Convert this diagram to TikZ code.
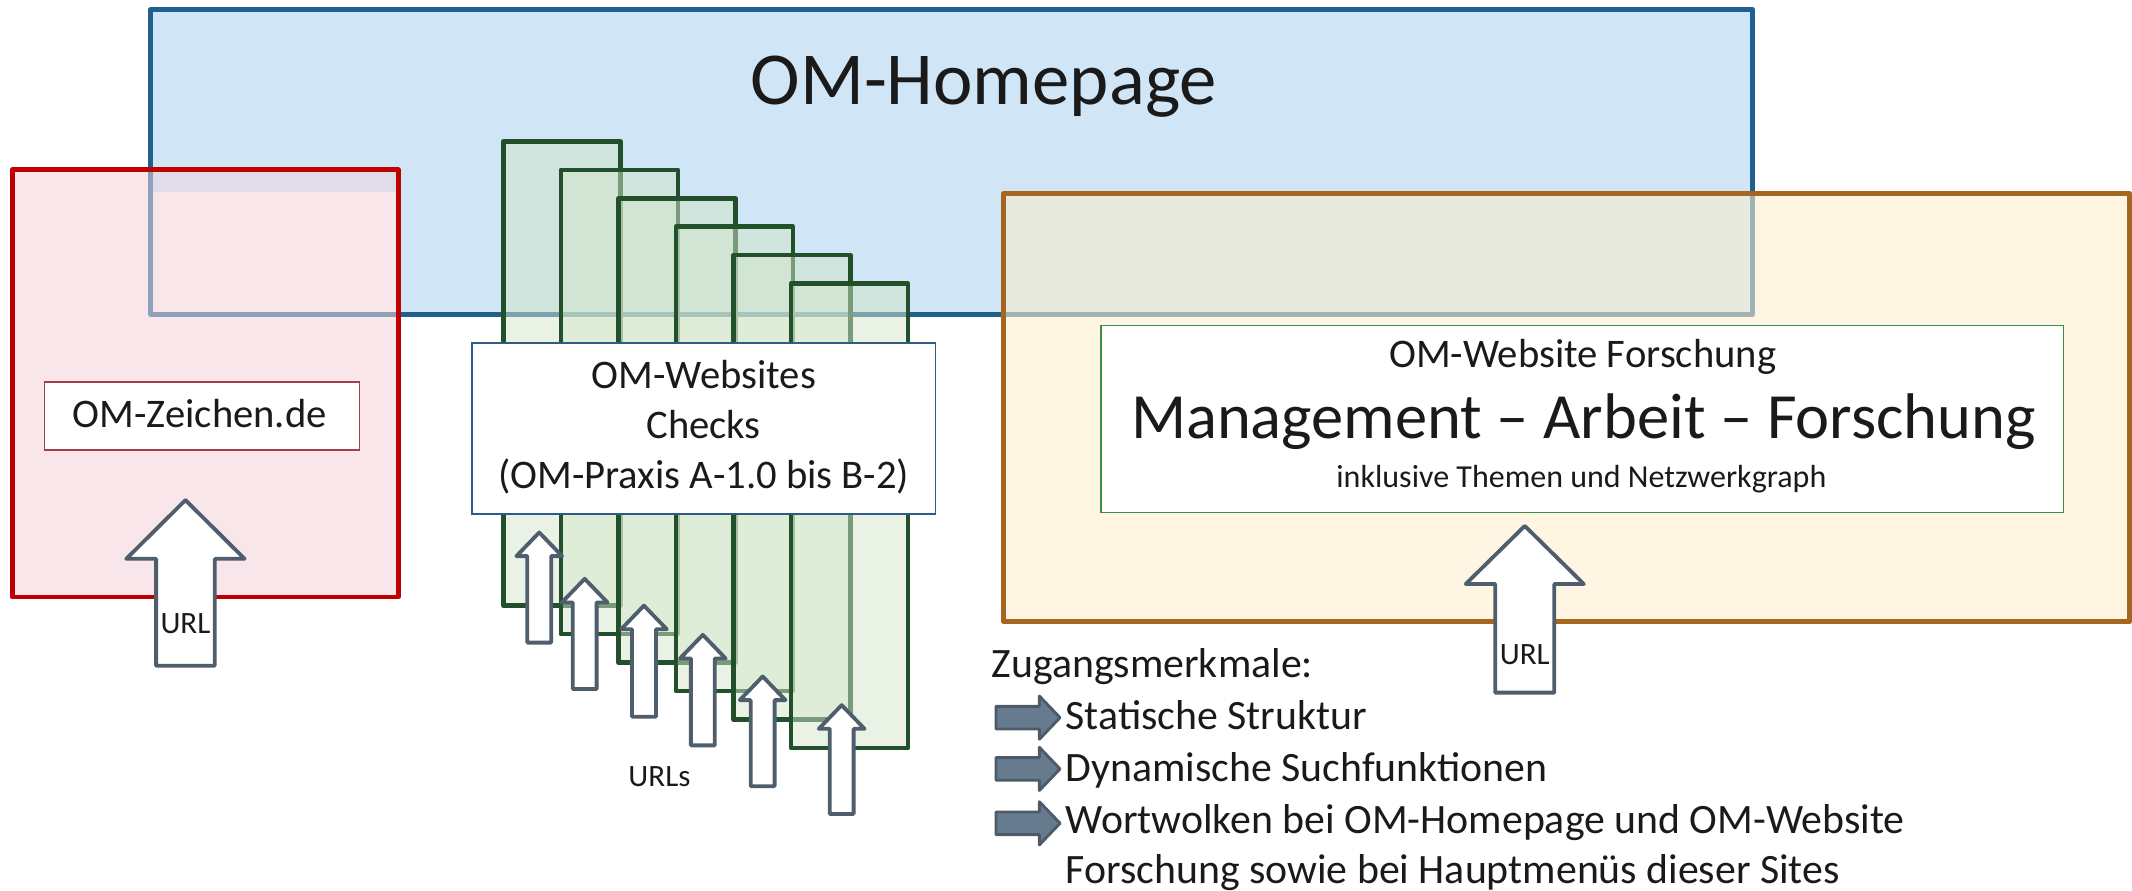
\documentclass[tikz,border=0pt]{standalone}
\usepackage{fontspec}
\setmainfont{Carlito}

\definecolor{homefill}{HTML}{D0E5F5}
\definecolor{homeline}{HTML}{1F6090}
\definecolor{zfill}{HTML}{F8E6EA}
\definecolor{zline}{HTML}{C00000}
\definecolor{zstrip}{HTML}{E1DCE9}
\definecolor{zhome}{HTML}{8FA1B8}
\definecolor{ffill}{HTML}{FEF5E3}
\definecolor{fline}{HTML}{A5661F}
\definecolor{fhome}{HTML}{E8EADF}
\definecolor{fhomeline}{HTML}{9FB2B4}
\definecolor{cline}{HTML}{22502A}
\definecolor{cfill}{HTML}{D3E6CB}
\definecolor{arrline}{HTML}{4F5E6D}
\definecolor{bulfill}{HTML}{677B8F}
\definecolor{bulline}{HTML}{4D5B69}
\definecolor{ink}{HTML}{1A1A1A}
\definecolor{zboxline}{HTML}{A0404F}
\definecolor{cboxline}{HTML}{2F5B88}
\definecolor{fboxline}{HTML}{3C8C46}

\tikzset{
  frame/.style={line width=1.9pt, line join=round},
  checkrect/.style={draw=cline, fill=cfill, fill opacity=0.5, line width=1.9pt, line join=round},
  urlarrow/.style={draw=arrline, fill=white, line width=1.6pt, line join=round},
  bularrow/.style={draw=bulline, fill=bulfill, line width=1.2pt, line join=round},
  txt/.style={text=ink, inner sep=0pt},
  big/.style={font=\fontsize{31.3}{38}\selectfont},
  mid/.style={font=\fontsize{17}{21}\selectfont},
  list/.style={font=\fontsize{17.5}{21}\selectfont},
  huge/.style={font=\fontsize{27}{32}\selectfont},
  small/.style={font=\fontsize{13.4}{16}\selectfont},
  tiny/.style={font=\fontsize{13}{16}\selectfont}
}

% vertical block arrow: x, tip y, bottom y, head half width, shaft half width, head length
\newcommand\blockup[6]{%
  \draw[urlarrow] (#1,#2) -- (#1+#4,#2+#6) -- (#1+#5,#2+#6) -- (#1+#5,#3)
    -- (#1-#5,#3) -- (#1-#5,#2+#6) -- (#1-#4,#2+#6) -- cycle;}

% small right-pointing bullet arrow centred at height #1
\newcommand\bularrowat[1]{%
  \draw[bularrow] (732.5,#1-8.3) -- (764.4,#1-8.3) -- (764.4,#1-15.9) -- (779.6,#1)
    -- (764.4,#1+15.9) -- (764.4,#1+8.3) -- (732.5,#1+8.3) -- cycle;}

\begin{document}
\begin{tikzpicture}[x=0.02cm, y=-0.02cm]
\useasboundingbox (0,0) rectangle (1568,655);

% OM-Homepage frame
\fill[homefill] (110.8,7) rectangle (1289,231.5);
\draw[frame, homeline] (110.8,7) rectangle (1289,231.5);
\node[txt, big, anchor=base] (home) at (723.5,76.7) {OM-Homepage};

% OM-Zeichen frame, lying over the homepage frame
\fill[zfill] (9,124.8) rectangle (293,439);
\begin{scope}
  \clip (9,124.8) rectangle (293,439);
  \fill[zstrip] (110.8,126.7) rectangle (293,141.5);
  \draw[frame, zhome] (110.8,7) rectangle (1289,231.5);
\end{scope}
\draw[frame, zline] (9,124.8) rectangle (293,439);

% research frame, lying over the homepage frame
\fill[ffill] (738,142.2) rectangle (1566.3,457.2);
\begin{scope}
  \clip (738,142.2) rectangle (1566.3,457.2);
  \fill[fhome] (110.8,7) rectangle (1289,231.5);
  \draw[frame, fhomeline] (110.8,7) rectangle (1289,231.5);
\end{scope}
\draw[frame, fline] (738,142.2) rectangle (1566.3,457.2);

% stack of check pages
\foreach \gi in {0,...,5} {
  \pgfmathsetmacro\gl{370.2+42.3*\gi}
  \pgfmathsetmacro\gt{104+20.9*\gi}
  \draw[checkrect] (\gl,\gt) rectangle (\gl+86,\gt+341.5);
}

% label boxes
\draw[fill=white, draw=zboxline, line width=0.7pt] (32.8,281) rectangle (264.3,330.8);
\node[txt, mid, anchor=base] (zeichen) at (147,314.3) {OM-Zeichen.de};

\draw[fill=white, draw=cboxline, line width=0.7pt] (347,252.3) rectangle (688,378);
\node[txt, mid, anchor=base] (checks1) at (517.5,285.4) {OM-Websites};
\node[txt, mid, anchor=base] (checks2) at (517.5,322.2) {Checks};
\node[txt, mid, anchor=base] (checks3) at (517.5,359.4) {(OM-Praxis A-1.0 bis B-2)};

\draw[fill=white, draw=fboxline, line width=0.7pt] (809.9,239.5) rectangle (1517.5,377);
\node[txt, mid, anchor=base] (forsch1) at (1164,270.5) {OM-Website Forschung};
\node[txt, huge, anchor=base] (forsch2) at (1164.5,322.4) {Management – Arbeit – Forschung};
\node[txt, small, anchor=base] (forsch3) at (1163,358.8) {inklusive Themen und Netzwerkgraph};

% URL arrows
\blockup{136.4}{367.8}{489.6}{43.5}{21.6}{43.2}
\node[txt, tiny, anchor=base] (urlz) at (136.4,466.2) {URL};

\blockup{1121.4}{386.8}{509.4}{43.4}{21.7}{42.7}
\node[txt, tiny, anchor=base] (urlf) at (1121.4,488.4) {URL};

\blockup{396.6}{391.6}{472.6}{16.8}{8.8}{17.4}
\blockup{430.0}{425.7}{506.7}{16.8}{8.8}{17.4}
\blockup{473.6}{445.4}{527.1}{16.8}{8.8}{17.4}
\blockup{516.9}{466.9}{548.2}{16.8}{8.8}{17.4}
\blockup{560.9}{497.5}{578.2}{16.8}{8.8}{17.4}
\blockup{619.0}{518.6}{598.6}{16.8}{8.8}{17.4}
\node[txt, tiny, anchor=base] (urls) at (485,578.2) {URLs};

% access features
\node[txt, list, anchor=base west] (zug) at (729,498.5) {Zugangsmerkmale:};
\bularrowat{527.8}
\node[txt, list, anchor=base west] (zug1) at (783.4,536.5) {Statische Struktur};
\bularrowat{565.5}
\node[txt, list, anchor=base west] (zug2) at (783.4,574.5) {Dynamische Suchfunktionen};
\bularrowat{605.5}
\node[txt, list, anchor=base west] (zug3) at (783.4,613) {Wortwolken bei OM-Homepage und OM-Website};
\node[txt, list, anchor=base west] (zug4) at (783.4,650) {Forschung sowie bei Hauptmenüs dieser Sites};

\end{tikzpicture}
\end{document}
